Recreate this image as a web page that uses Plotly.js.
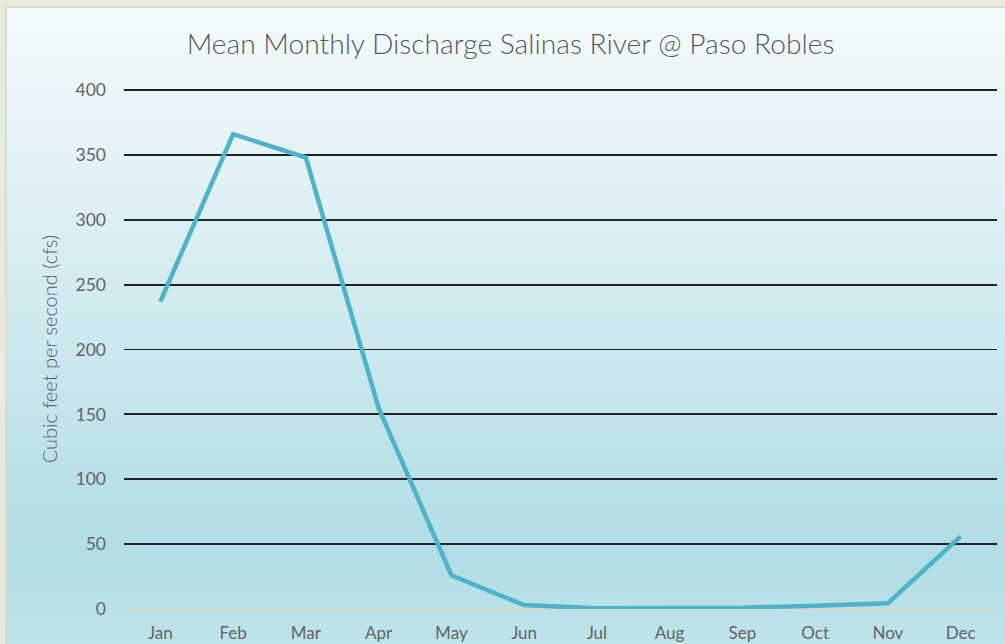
<!DOCTYPE html>
<html>
<head>
<meta charset="utf-8">
<script src="https://cdn.plot.ly/plotly-3.0.1.min.js"></script>
<style>
  html, body { margin: 0; padding: 0; width: 1005px; height: 644px; overflow: hidden; background: #e8ebdc; }
  #frame {
    position: absolute; left: 5px; top: 6px; width: 1010px; height: 660px;
    border-left: 2px solid #d9dbd6; border-top: 2px solid #d9dbd6;
    background: linear-gradient(to bottom, #f3fafc 0%, #e2f2f6 25%, #c8e7ed 55%, #b1dde5 83%, #c3e6ec 100%);
  }
  #chart { position: absolute; left: 0; top: 0; width: 1005px; height: 644px; }
</style>
</head>
<body>
<div id="frame"></div>
<div id="chart"></div>
<script>
const months = ["Jan","Feb","Mar","Apr","May","Jun","Jul","Aug","Sep","Oct","Nov","Dec"];
const discharge = [237, 366, 348, 155, 26, 3, 0.5, 0.4, 1, 2.5, 4.5, 56];
const yTicks = [0, 50, 100, 150, 200, 250, 300, 350, 400];

const trace = {
  x: months, y: discharge, type: "scatter", mode: "lines",
  line: { color: "#4eb3c8", width: 4.5 },
  hoverinfo: "skip"
};

const font = "Lato, 'Open Sans', sans-serif";
const layout = {
  width: 1005, height: 644,
  paper_bgcolor: "rgba(0,0,0,0)", plot_bgcolor: "rgba(0,0,0,0)",
  margin: { l: 124, r: 8, t: 89, b: 35 },
  showlegend: false,
  title: {
    text: "Mean Monthly Discharge Salinas River @ Paso Robles",
    font: { family: font, size: 28.2, color: "#595959", weight: 300 },
    x: 0.508, xanchor: "center", y: 0.932, yanchor: "middle"
  },
  xaxis: {
    type: "category", tickvals: months, ticktext: months,
    range: [-0.5, 11.5],
    showgrid: false, showline: false, zeroline: false, ticks: "",
    ticklabelstandoff: 12,
    tickfont: { family: font, size: 17, color: "#636363" }
  },
  yaxis: {
    range: [0, 400.8], tickvals: yTicks, ticktext: yTicks.map(String),
    showgrid: true, gridcolor: "#222222", gridwidth: 1.8,
    zeroline: true, zerolinecolor: "#dcd3d3", zerolinewidth: 1.2,
    showline: false, ticks: "",
    ticklabelstandoff: 17,
    tickfont: { family: font, size: 17.5, color: "#636363" },
    title: {
      text: "Cubic feet per second (cfs)", standoff: 12,
      font: { family: font, size: 20, color: "#595959", weight: 300 }
    }
  }
};

Plotly.newPlot("chart", [trace], layout, { staticPlot: true, displayModeBar: false });
</script>
</body>
</html>
